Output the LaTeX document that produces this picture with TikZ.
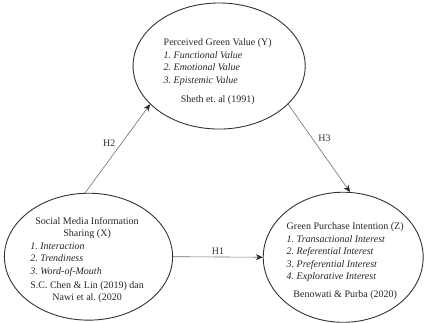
\documentclass[tikz,border=0pt]{standalone}
\usepackage{fontspec}
\setmainfont{Liberation Serif}[
  UprightFont = *,
  ItalicFont = * Italic,
  BoldFont = * Bold]
\usepackage{xcolor}
\usetikzlibrary{shapes, positioning, arrows.meta}
\definecolor{borde}{HTML}{333333}
\definecolor{flecha}{HTML}{707070}
\tikzset{
  varelipse/.style={ellipse, draw=borde, line width=0.9pt, inner sep=0pt},
  texto/.style={font=\rmfamily\fontsize{10}{12.5}\selectfont, text=black!85, inner sep=0pt},
  hipotesis/.style={draw=flecha, line width=0.6pt, -{Stealth[length=7pt,width=6pt,color=black!85]}},
  etiqueta/.style={font=\rmfamily\fontsize{10}{12}\selectfont, text=black!80, inner sep=2pt}
}
\frenchspacing

\begin{document}
\begin{tikzpicture}
        \useasboundingbox (0,0) rectangle (15.11,11.32);
        % Variables
        \node[varelipse, minimum width=6.05cm, minimum height=4.43cm] (pgv) at (7.70,9.00) {};
        \node[varelipse, minimum width=5.91cm, minimum height=4.46cm] (smis) at (3.11,2.30) {};
        \node[varelipse, minimum width=5.62cm, minimum height=4.57cm] (gpi) at (12.06,2.28) {};
        % Textos de cada variable
        \node[texto] (pgvtxt) at (7.65,8.80) {\begin{tabular}{@{}c@{}}
            Perceived Green Value (Y)\\
            \multicolumn{1}{@{}l@{}}{\textit{1. Functional Value}}\\
            \multicolumn{1}{@{}l@{}}{\textit{2. Emotional Value}}\\
            \multicolumn{1}{@{}l@{}}{\textit{3. Epistemic Value}}\\[7pt]
            Sheth et. al (1991)
          \end{tabular}};
        \node[texto] (smistxt) at (3.06,2.18) {\begin{tabular}{@{}c@{}}
            Social Media Information\\
            Sharing (X)\\
            \multicolumn{1}{@{}l@{}}{\textit{1. Interaction}}\\
            \multicolumn{1}{@{}l@{}}{\textit{2. Trendiness}}\\
            \multicolumn{1}{@{}l@{}}{\textit{3. Word-of-Mouth}}\\[1.5pt]
            S.C. Chen \& Lin (2019) dan\\
            Nawi et al. (2020
          \end{tabular}};
        \node[texto] (gpitxt) at (12.13,2.14) {\begin{tabular}{@{}c@{}}
            Green Purchase Intention (Z)\\
            \multicolumn{1}{@{}l@{}}{\textit{1. Transactional Interest}}\\
            \multicolumn{1}{@{}l@{}}{\textit{2. Referential Interest}}\\
            \multicolumn{1}{@{}l@{}}{\textit{3. Preferential Interest}}\\
            \multicolumn{1}{@{}l@{}}{\textit{4. Explorative Interest}}\\[5.5pt]
            Benowati \& Purba (2020)
          \end{tabular}};
        % Hipotesis
        \draw[hipotesis] (smis.93) -- (pgv.209) node[etiqueta, midway, above left] (h2) {H2};
        \draw[hipotesis] (pgv.-29.5) -- (gpi.84) node[etiqueta, pos=0.45, above right] (h3) {H3};
        \draw[hipotesis] (smis.east) -- (gpi.west) node[etiqueta, midway, above] (h1) {H1};
    \end{tikzpicture}
\end{document}
